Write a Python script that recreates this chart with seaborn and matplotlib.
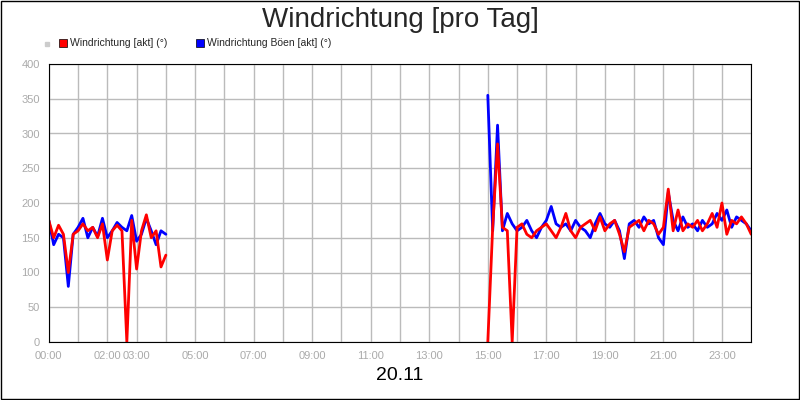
import numpy as np
import pandas as pd
import matplotlib
matplotlib.use("Agg")
import matplotlib.pyplot as plt
import matplotlib.patches as mpatches
import seaborn as sns

# values every 10 minutes
seg1_blue = [175, 140, 155, 150, 80, 155, 165, 178, 150, 165, 152, 178, 150, 160,
             172, 165, 160, 182, 145, 155, 178, 160, 140, 160, 155]
seg1_red = [175, 150, 168, 155, 100, 155, 160, 170, 160, 165, 150, 170, 118, 160,
            168, 160, 0, 175, 105, 160, 183, 150, 160, 108, 125]
seg2_blue = [355, 160, 312, 160, 185, 170, 160, 165, 175, 160, 150, 165, 175, 195,
             170, 165, 170, 160, 175, 165, 160, 150, 170, 185, 170, 165, 175, 160,
             120, 170, 175, 165, 180, 170, 175, 150, 140, 215, 175, 160, 180, 165,
             170, 160, 175, 165, 170, 185, 175, 190, 165, 180, 175, 170, 160]
seg2_red = [0, 165, 285, 165, 160, 0, 165, 170, 155, 150, 160, 165, 170, 160, 150,
            165, 185, 160, 150, 165, 170, 175, 160, 180, 160, 170, 175, 155, 130,
            165, 170, 175, 160, 175, 170, 155, 165, 220, 160, 190, 160, 170, 165,
            175, 160, 170, 185, 165, 200, 155, 175, 170, 180, 170, 155]
seg1_start, seg2_start = 0.0, 15.0
tick_hours = [0, 2, 3, 5, 7, 9, 11, 13, 15, 17, 19, 21, 23]

rows = []
for start, blue, red, seg in [(seg1_start, seg1_blue, seg1_red, 1),
                              (seg2_start, seg2_blue, seg2_red, 2)]:
    t = start + np.arange(len(blue)) / 6
    for h, b, r in zip(t, blue, red):
        rows.append({"h": h, "seg": seg, "blue": b, "red": r})
df = pd.DataFrame(rows)

sns.set_style("white")
plt.rcParams["font.family"] = ["Liberation Sans", "DejaVu Sans"]
fig = plt.figure(figsize=(8, 4), dpi=100)
ax = fig.add_axes([0.061, 0.145, 0.878, 0.695])

for seg in (1, 2):
    d = df[df["seg"] == seg]
    sns.lineplot(data=d, x="h", y="blue", color="#0000ff", lw=2, ax=ax)
    sns.lineplot(data=d, x="h", y="red", color="#ff0000", lw=2, ax=ax)

ax.set_xlim(0, 24)
ax.set_ylim(0, 400)
ax.set_xticks(range(0, 25), minor=True)
ax.set_xticks(tick_hours)
ax.set_xticklabels([f"{h:02d}:00" for h in tick_hours])
ax.set_yticks(range(0, 401, 50))
ax.grid(True, which="both", color="#bbbbbb", lw=1)
ax.set_axisbelow(True)
ax.tick_params(labelsize=8, colors="#aaaaaa", length=3)
ax.set_xlabel("20.11", fontsize=14, color="black")
ax.set_ylabel("")
for s in ax.spines.values():
    s.set_color("black")

fig.text(0.5, 0.95, "Windrichtung [pro Tag]", ha="center", va="center", fontsize=20)
fig.patches.append(mpatches.Rectangle((0.0015, 0.003), 0.997, 0.994, transform=fig.transFigure,
                                      fill=False, edgecolor="black", lw=1))
fig.patches.append(mpatches.Rectangle((0.056, 0.885), 0.005, 0.01, transform=fig.transFigure,
                                      color="#cccccc"))
for x, c, lab in [(0.074, "#ff0000", "Windrichtung [akt] (°)"),
                  (0.245, "#0000ff", "Windrichtung Böen [akt] (°)")]:
    fig.patches.append(mpatches.Rectangle((x, 0.882), 0.01, 0.02, transform=fig.transFigure,
                                          facecolor=c, edgecolor="black", lw=0.5))
    fig.text(x + 0.014, 0.892, lab, fontsize=7.5, va="center")

fig.savefig("out.png", dpi=100)
